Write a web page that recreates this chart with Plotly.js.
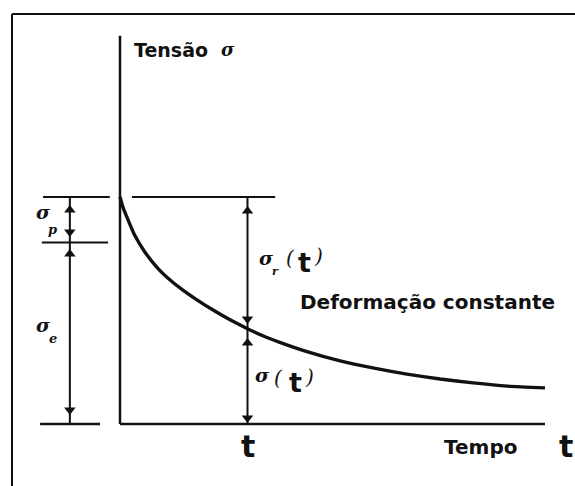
<!DOCTYPE html>
<html>
<head>
<meta charset="utf-8">
<script src="https://cdn.plot.ly/plotly-3.0.1.min.js"></script>
<style>
  html, body { margin: 0; padding: 0; background: #fff; }
  #chart { width: 575px; height: 486px; }
</style>
</head>
<body>
<div id="chart"></div>
<script>
// Stress relaxation under constant strain: stress vs. time
const timeData   = [0, 0.07, 0.19, 0.35, 0.58, 0.89, 1.2, 1.48, 1.81, 2.19, 2.59, 3.0, 3.36, 3.76, 4.4, 5.18, 5.95, 6.75, 7.53, 8.31, 9.11, 10];
const stressData = [100, 95.5, 89.9, 83.0, 75.9, 68.6, 63.1, 59.0, 54.7, 50.2, 45.9, 42.0, 38.9, 36.0, 31.9, 27.8, 24.7, 22.0, 19.8, 18.1, 16.7, 15.9];

const sigma0 = 100;      // initial stress
const sigmaE = 80;       // elastic part
const tMark = 3.0;       // instant t marked on the time axis
const tEnd = 10;         // end of time axis
const sigmaTop = 171;    // top of stress axis
const tDim = -1.18;      // position of the left dimension line

// arrowheads on the dimension lines
const upHeadsX   = [tDim, tDim, tMark, tMark];
const upHeadsY   = [94.3, 74.9, 93.8, 35.7];
const downHeadsX = [tDim, tDim, tMark, tMark];
const downHeadsY = [84.6, 6.2, 46.3, 2.6];

const ink = '#111';
const seg = (x, y, w, dash) => ({
  type: 'scatter', mode: 'lines', x: x, y: y, hoverinfo: 'skip',
  line: { color: ink, width: w, dash: dash || 'solid' }
});

const traces = [
  // axes
  seg([0, 0], [0, sigmaTop], 2.5),
  seg([0, tEnd], [0, 0], 2.5),
  // reference levels
  seg([-1.81, -0.24], [sigma0, sigma0], 2),
  seg([0.28, 3.65], [sigma0, sigma0], 2),
  seg([-1.84, -0.28], [sigmaE, sigmaE], 2),
  seg([-1.88, -0.47], [0, 0], 2.5),
  // dimension lines
  seg([tDim, tDim], [0, sigma0], 2),
  seg([tMark, tMark], [0, sigma0], 2),
  // relaxation curve
  {
    type: 'scatter', mode: 'lines', x: timeData, y: stressData, hoverinfo: 'skip',
    line: { color: ink, width: 3.4, shape: 'spline', smoothing: 0.5 }
  },
  {
    type: 'scatter', mode: 'markers', x: upHeadsX, y: upHeadsY, hoverinfo: 'skip',
    marker: { symbol: 'triangle-up', size: 10, color: ink, line: { width: 0 } }
  },
  {
    type: 'scatter', mode: 'markers', x: downHeadsX, y: downHeadsY, hoverinfo: 'skip',
    marker: { symbol: 'triangle-down', size: 10, color: ink, line: { width: 0 } }
  }
];

const sans = 'DejaVu Sans, Liberation Sans, sans-serif';
const serif = 'DejaVu Serif, Liberation Serif, serif';
const label = (text, x, y, size, family, anchor, weight) => ({
  text: text, x: x, y: y, xref: 'x', yref: 'y', showarrow: false,
  xanchor: anchor || 'left', yanchor: 'middle',
  font: { family: family, size: size, color: ink, weight: weight || 'bold' }
});

const annotations = [
  label('Tensão', 0.28, 164.8, 19, sans),
  label('<i>σ</i>', 2.55, 164.8, 18, serif, 'center'),
  label('Deformação constante', 4.19, 53.7, 20, sans),
  label('Tempo', 7.58, -10.1, 20, sans),
  label('t', tMark, -10.1, 30, sans, 'center'),
  label('t', 10.49, -10.1, 30, sans, 'center'),
  // sigma_r(t)
  label('<i>σ</i>', 3.44, 73.1, 19, serif, 'center'),
  label('<i>r</i>', 3.67, 67, 11, serif, 'center'),
  label('<i>(</i>', 4.0, 73.1, 20, serif, 'center', 'normal'),
  label('t', 4.35, 71.0, 27, sans, 'center'),
  label('<i>)</i>', 4.68, 74, 20, serif, 'center', 'normal'),
  // sigma(t)
  label('<i>σ</i>', 3.36, 21.6, 19, serif, 'center'),
  label('<i>(</i>', 3.74, 20.3, 20, serif, 'center', 'normal'),
  label('t', 4.12, 18.3, 27, sans, 'center'),
  label('<i>)</i>', 4.47, 20.8, 20, serif, 'center', 'normal'),
  // sigma_p and sigma_e
  label('<i>σ</i>', -1.81, 93.4, 19, serif, 'center'),
  label('<i>p</i>', -1.58, 85.5, 13, serif, 'center'),
  label('<i>σ</i>', -1.81, 43.6, 19, serif, 'center'),
  label('<i>e</i>', -1.58, 37.5, 13, serif, 'center')
];

const layout = {
  width: 575, height: 486, autosize: false,
  margin: { l: 0, r: 0, t: 0, b: 0, pad: 0 },
  paper_bgcolor: '#fff', plot_bgcolor: '#fff',
  showlegend: false,
  xaxis: { range: [-120 / 42.5, 455 / 42.5], visible: false, fixedrange: true },
  yaxis: { range: [-62 / 2.27, 424 / 2.27], visible: false, fixedrange: true },
  shapes: [
    { type: 'line', xref: 'paper', yref: 'paper', x0: 12 / 575, x1: 1, y0: 1 - 14 / 486, y1: 1 - 14 / 486,
      line: { color: ink, width: 2 } },
    { type: 'line', xref: 'paper', yref: 'paper', x0: 12 / 575, x1: 12 / 575, y0: 0, y1: 1 - 14 / 486,
      line: { color: ink, width: 2 } }
  ],
  annotations: annotations
};

Plotly.newPlot('chart', traces, layout, { staticPlot: true, displayModeBar: false });
</script>
</body>
</html>
